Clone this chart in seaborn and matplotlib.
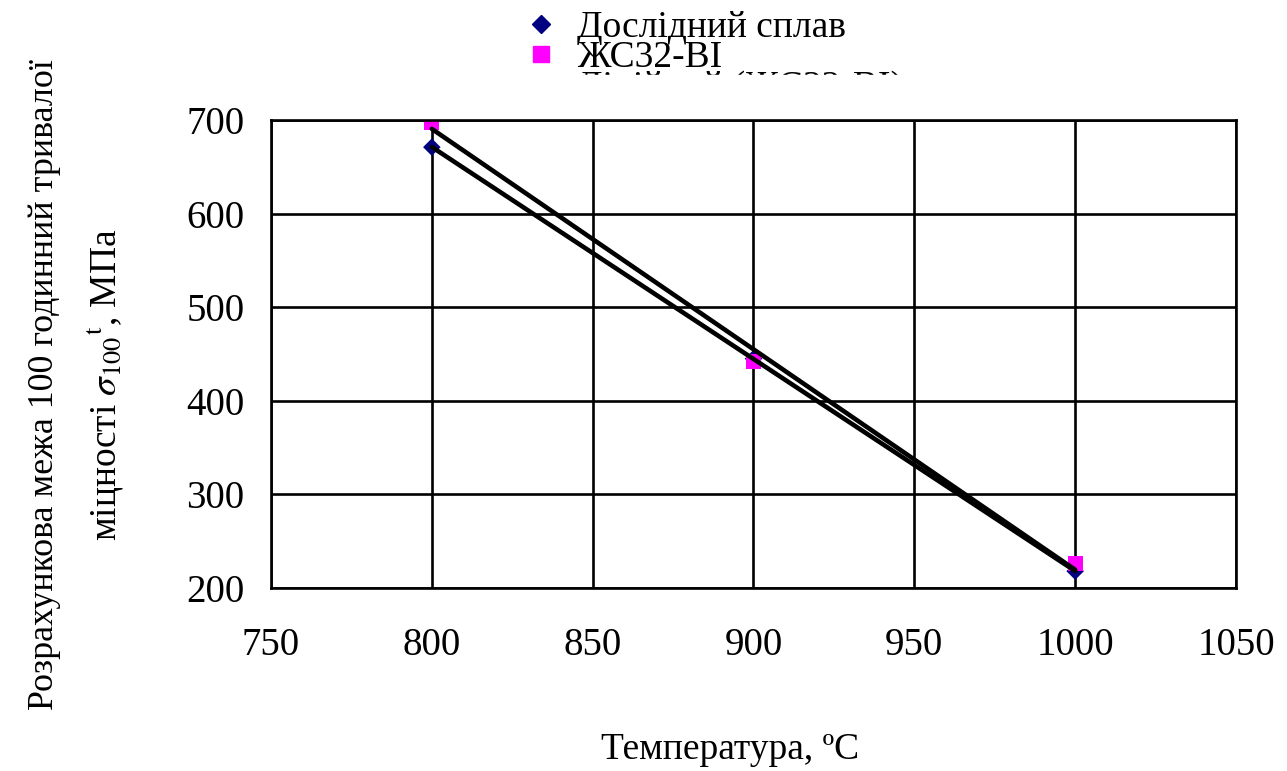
import matplotlib
matplotlib.use("Agg")
import matplotlib.pyplot as plt
import seaborn as sns
import pandas as pd
from matplotlib.lines import Line2D
from matplotlib.patches import Rectangle

# Data
temps = [800, 900, 1000]
alloy_exp = [671, 445, 218]      # Дослідний сплав
alloy_zs32 = [697, 442, 226]     # ЖС32-ВІ
x_ticks = [750, 800, 850, 900, 950, 1000, 1050]
y_ticks = [200, 300, 400, 500, 600, 700]

sns.set_theme(style="white")
plt.rcParams['font.family'] = ['Liberation Serif', 'DejaVu Serif']
plt.rcParams['mathtext.fontset'] = 'stix'
plt.rcParams['text.color'] = 'black'
plt.rcParams['axes.labelcolor'] = 'black'

fig = plt.figure(figsize=(12.87, 7.71), dpi=100)
ax = fig.add_axes([271/1287, 1-588/771, (1236-271)/1287, (588-120)/771])

df1 = pd.DataFrame({"t": temps, "v": alloy_exp})
df2 = pd.DataFrame({"t": temps, "v": alloy_zs32})

sns.regplot(data=df1, x="t", y="v", ax=ax, scatter=False, ci=None,
            line_kws=dict(color="black", lw=3.3, zorder=3))
sns.regplot(data=df2, x="t", y="v", ax=ax, scatter=False, ci=None,
            line_kws=dict(color="black", lw=3.3, zorder=3))
sns.scatterplot(data=df1, x="t", y="v", ax=ax, marker="D", color="#000080",
                s=80, edgecolor="none", zorder=2, legend=False)
sns.scatterplot(data=df2, x="t", y="v", ax=ax, marker="s", color="#FF00FF",
                s=120, edgecolor="none", zorder=2, legend=False)

ax.set_xlim(750, 1050)
ax.set_ylim(200, 700)
ax.set_xticks(x_ticks)
ax.set_yticks(y_ticks)
ax.grid(True, color="black", lw=1.9)
ax.set_axisbelow(True)
for s in ax.spines.values():
    s.set_color("black")
    s.set_linewidth(1.9)
ax.tick_params(axis="both", direction="out", length=7, width=1.9,
               colors="black", labelsize=28)
ax.tick_params(axis="x", pad=21)
ax.tick_params(axis="y", pad=12)
ax.set_xlabel("")
ax.set_ylabel("")

fig.text(730/1287, 1-750/771, "Температура, ºC", ha="center", va="center", fontsize=27)
fig.text(45/1287, 1-385/771, "Розрахункова межа 100 годинний тривалої",
         rotation=90, ha="center", va="center", fontsize=25.8)
fig.text(105/1287, 1-385/771, r"міцності $\sigma_{100}{}^{\mathrm{t}}$, МПа",
         rotation=90, ha="center", va="center", fontsize=27)

handles = [
    Line2D([], [], marker="D", color="#000080", ls="none", markersize=9),
    Line2D([], [], marker="s", color="#FF00FF", ls="none", markersize=11),
    Line2D([], [], color="black", lw=3),
]
labels = ["Дослідний сплав", "ЖС32-ВІ", "Лінійний (ЖС32-ВІ)"]
fig.legend(handles, labels, loc="upper left", bbox_to_anchor=(500/1287, 1 + 8/771),
           frameon=False, fontsize=27, labelspacing=-0.12, handlelength=1.2,
           handletextpad=0.35, borderpad=0)
fig.patches.append(Rectangle((430/1287, 1-110/771), 560/1287, 35/771,
                             transform=fig.transFigure, color="white", zorder=10))

fig.savefig("out.png", dpi=100)
